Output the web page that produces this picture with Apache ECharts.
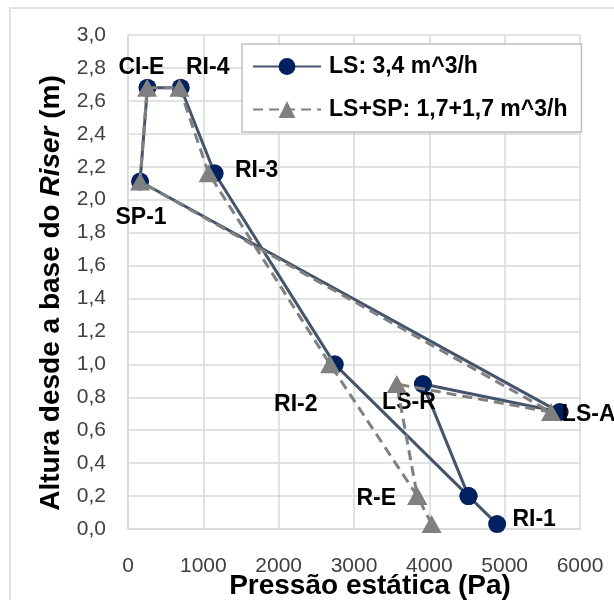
<!DOCTYPE html>
<html>
<head>
<meta charset="utf-8">
<script src="https://cdn.jsdelivr.net/npm/echarts@6/dist/echarts.min.js"></script>
<style>
html,body{margin:0;padding:0;background:#fff;}
#chart{width:614px;height:600px;}
</style>
</head>
<body>
<div id="chart"></div>
<script>
// ---- data ----
const seriesNames = ['LS: 3,4 m^3/h', 'LS+SP: 1,7+1,7 m^3/h'];
const pointNames = ['RI-1', 'R-E', 'RI-2', 'RI-3', 'RI-4', 'CI-E', 'SP-1', 'LS-A', 'LS-R', 'R-E'];
const lsPressure = [4900, 4520, 2745, 1150, 700, 258, 160, 5730, 3915, 4520];
const lsHeight   = [0.03, 0.20, 1.00, 2.16, 2.68, 2.68, 2.11, 0.71, 0.88, 0.20];
const spPressure = [4030, 3840, 2683, 1070, 683, 254, 160, 5615, 3567, 3840];
const spHeight   = [0.03, 0.20, 1.00, 2.16, 2.68, 2.68, 2.11, 0.71, 0.88, 0.20];
const xAxisTitle = 'Pressão estática (Pa)';
const yAxisTitleParts = ['Altura desde a base do ', 'Riser', ' (m)'];

// ---- label placement (style, not data) ----
const lsLabelOffsets = {
  0: [37, -4], 2: [-39, 40], 3: [42, -3], 4: [27, -20], 5: [-6, -20],
  6: [1, 36], 7: [29, 3], 8: [-14, 19]
};
const spLabelOffsets = { 1: [-41, 3] };

function buildData(xs, ys, offsets) {
  return xs.map((x, i) => {
    const item = { value: [x, ys[i]], name: pointNames[i] };
    if (offsets[i]) {
      item.label = { show: true, position: 'inside', offset: offsets[i] };
    }
    return item;
  });
}

const FONT = 'Liberation Sans, Arial, sans-serif';
const labelStyle = {
  show: false,
  formatter: p => p.name,
  color: '#000',
  fontFamily: FONT,
  fontWeight: 'bold',
  fontSize: 23
};

const chart = echarts.init(document.getElementById('chart'), null, { renderer: 'canvas' });
chart.setOption({
  animation: false,
  backgroundColor: '#fff',
  graphic: [{
    type: 'rect', silent: true, z: -10,
    shape: { x: 10, y: 8, width: 700, height: 700 },
    style: { fill: 'none', stroke: '#D9D9D9', lineWidth: 1.5 }
  }],
  grid: { left: 128, right: 34, top: 35, bottom: 71, containLabel: false, outerBoundsMode: 'none' },
  legend: {
    orient: 'vertical',
    left: 242, top: 44,
    padding: [11, 14, 11, 10],
    itemWidth: 68, itemHeight: 21, itemGap: 20,
    backgroundColor: '#fff',
    borderColor: '#BFBFBF', borderWidth: 1.5,
    textStyle: {
      fontFamily: FONT,
      fontWeight: 'bold', fontSize: 23, color: '#000',
      padding: [0, 0, 0, 3]
    },
    data: seriesNames
  },
  xAxis: {
    type: 'value', min: 0, max: 6000, interval: 1000,
    name: xAxisTitle, nameLocation: 'middle', nameGap: 43, nameMoveOverlap: false,
    nameTextStyle: {
      fontFamily: FONT, fontWeight: 'bold',
      fontSize: 28, color: '#000', padding: [0, 0, 0, 32]
    },
    axisLine: { show: true, lineStyle: { color: '#D9D9D9', width: 1.5 } },
    axisTick: { show: false },
    axisLabel: {
      margin: 27, fontFamily: FONT,
      fontSize: 21, color: '#404040',
      formatter: v => String(v)
    },
    splitLine: { show: true, lineStyle: { color: '#D9D9D9', width: 1.5 } }
  },
  yAxis: {
    type: 'value', min: 0, max: 3, interval: 0.2,
    name: '{a|' + yAxisTitleParts[0] + '}{b|' + yAxisTitleParts[1] + '}{a|' + yAxisTitleParts[2] + '}',
    nameLocation: 'middle', nameGap: 63, nameRotate: 90, nameMoveOverlap: false,
    nameTextStyle: {
      color: '#000', padding: [0, 22, 0, 0],
      rich: {
        a: { fontFamily: FONT, fontWeight: 'bold', fontSize: 28, color: '#000' },
        b: { fontFamily: FONT, fontWeight: 'bold', fontStyle: 'italic', fontSize: 28, color: '#000' }
      }
    },
    axisLine: { show: true, lineStyle: { color: '#D9D9D9', width: 1.5 } },
    axisTick: { show: false },
    axisLabel: {
      margin: 22, fontFamily: FONT,
      fontSize: 21, color: '#404040',
      formatter: v => v.toFixed(1).replace('.', ',')
    },
    splitLine: { show: true, lineStyle: { color: '#D9D9D9', width: 1.5 } }
  },
  series: [
    {
      name: seriesNames[0], type: 'line', clip: false,
      symbol: 'circle', symbolSize: 18,
      lineStyle: { color: '#44546A', width: 3 },
      itemStyle: { color: '#002060', borderWidth: 0 },
      label: labelStyle,
      data: buildData(lsPressure, lsHeight, lsLabelOffsets),
      z: 2
    },
    {
      name: seriesNames[1], type: 'line', clip: false,
      symbol: 'triangle', symbolSize: [20, 18],
      lineStyle: { color: '#808080', width: 3, type: [10, 6] },
      itemStyle: { color: '#808080', borderWidth: 0 },
      label: labelStyle,
      data: buildData(spPressure, spHeight, spLabelOffsets),
      z: 3
    }
  ]
});
</script>
</body>
</html>
